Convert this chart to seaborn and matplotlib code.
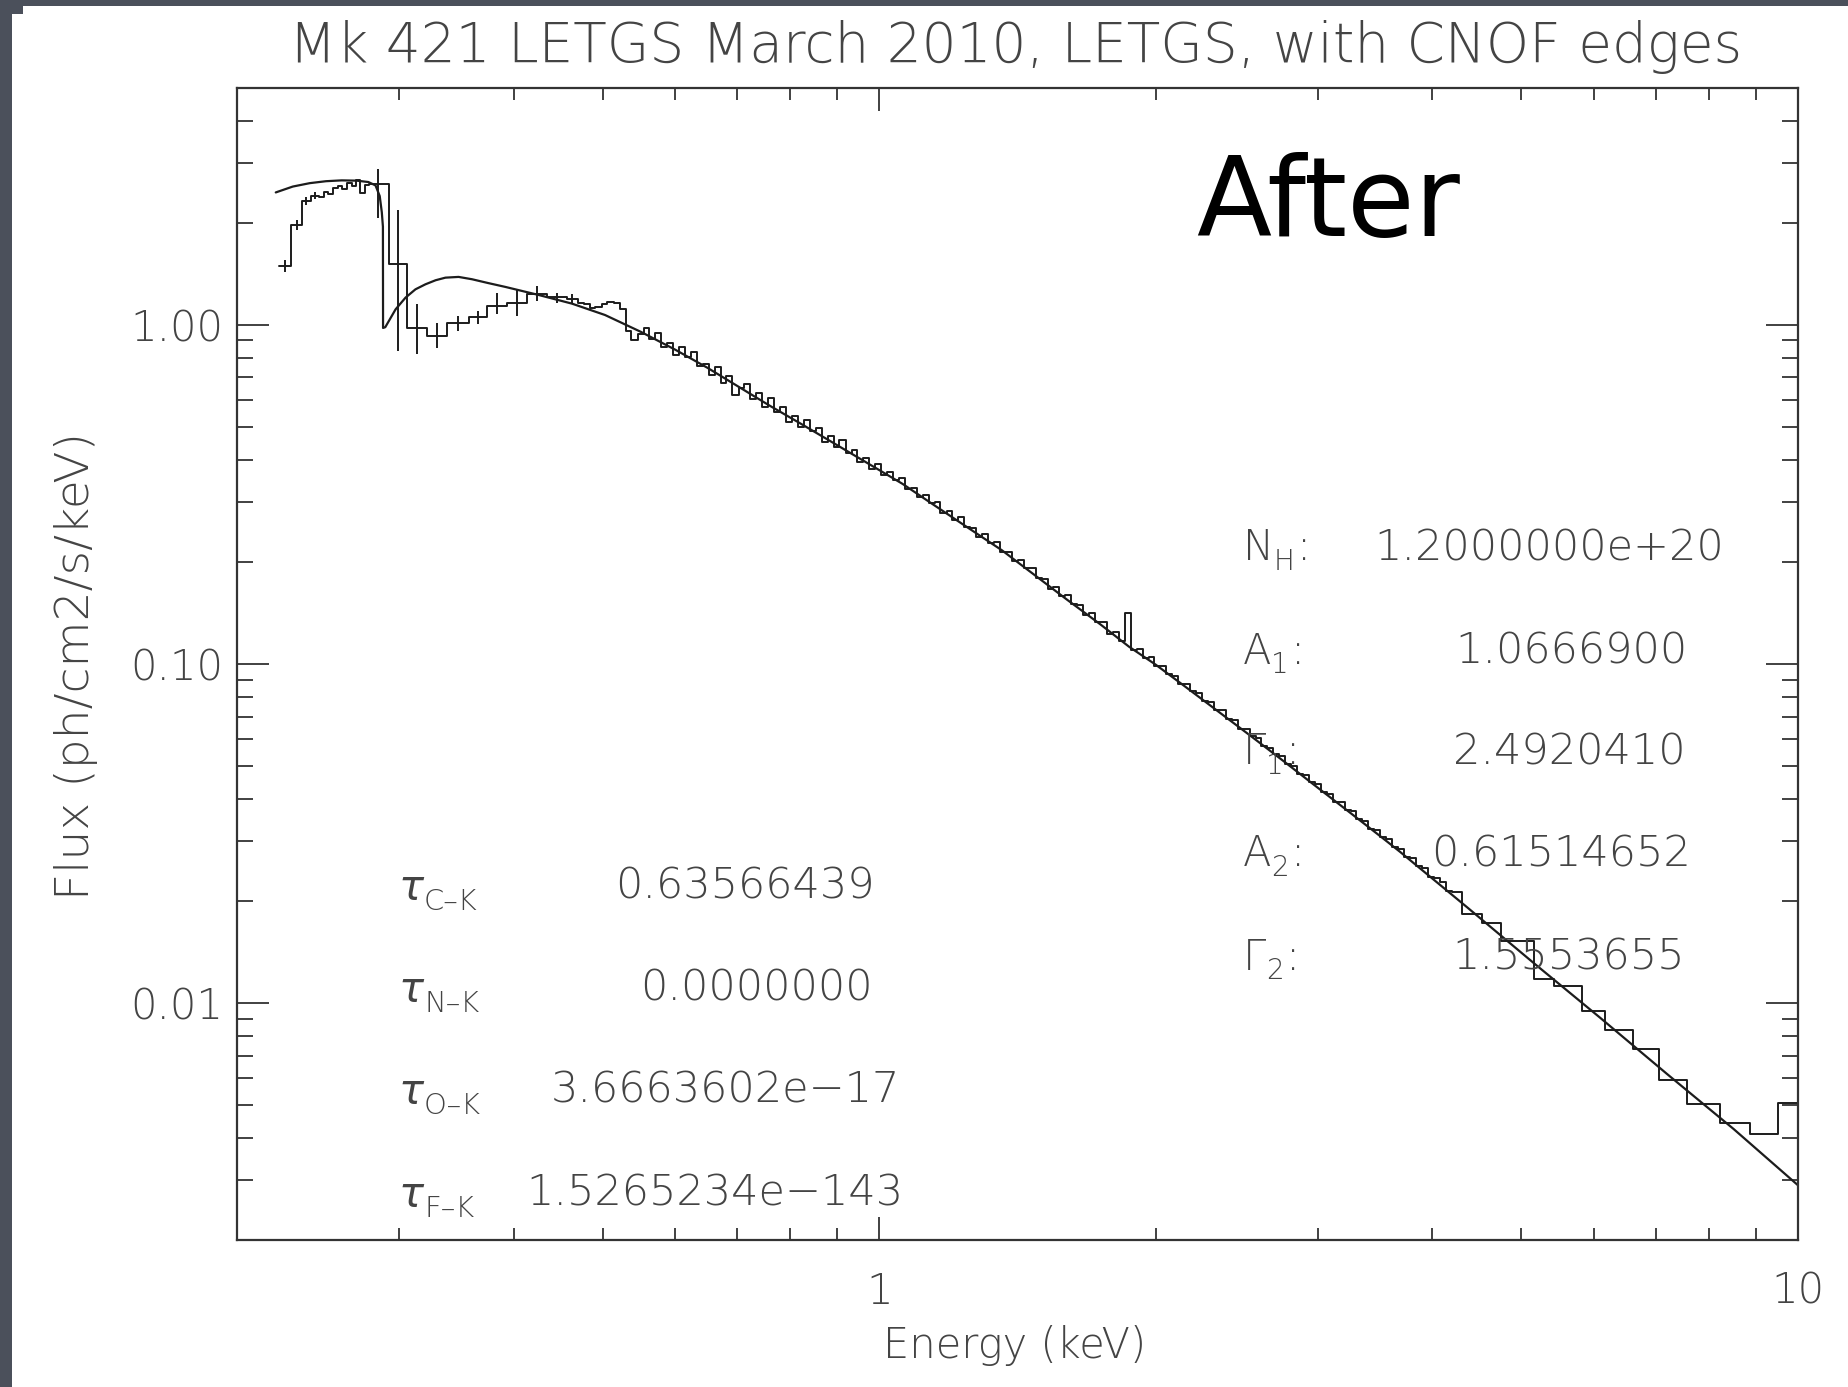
import numpy as np
import pandas as pd
import matplotlib
matplotlib.use("Agg")
import matplotlib.pyplot as plt
import seaborn as sns
from matplotlib.patches import Rectangle
from matplotlib.ticker import NullFormatter, LogLocator

# ---------------- data ----------------
# smooth model curve (energy keV, flux ph/cm2/s/keV)
model_E = [0.2204, 0.2300, 0.2400, 0.2500, 0.2600, 0.2700, 0.2780, 0.2830, 0.2860, 0.2875,
           0.2883, 0.2884, 0.2900, 0.2976, 0.3051, 0.3128, 0.3207, 0.3290, 0.3372, 0.3485,
           0.3605, 0.3750, 0.3918, 0.4259, 0.4630, 0.5030, 0.5500, 0.6000, 0.6500, 0.7000,
           0.7600, 0.8200, 0.8900, 0.9700, 1.0600, 1.1500, 1.2500, 1.3600, 1.4800, 1.6000,
           1.7400, 1.8700, 2.0000, 2.1500, 2.3300, 2.5400, 2.7600, 3.0000, 3.2600, 3.5400,
           3.6900, 4.3600, 5.1600, 6.0900, 7.2000, 8.5100, 10.000]
model_F = [2.46, 2.56, 2.62, 2.655, 2.67, 2.665, 2.64, 2.58, 2.40, 2.15,
           1.95, 0.98, 0.985, 1.112, 1.204, 1.274, 1.318, 1.355, 1.379, 1.386,
           1.364, 1.33, 1.295, 1.226, 1.156, 1.070, 0.955, 0.845, 0.748, 0.662,
           0.578, 0.513, 0.450, 0.392, 0.340, 0.293, 0.252, 0.2165, 0.182, 0.155,
           0.131, 0.1125, 0.0995, 0.0860, 0.0730, 0.0612, 0.0515, 0.0432, 0.0363, 0.0305,
           0.0279, 0.0192, 0.0131, 0.00905, 0.00618, 0.00425, 0.00290]

# binned data: left bin edges and fluxes (low-energy, wide bins)
low_edges = [0.2222, 0.2288, 0.2356, 0.2405, 0.2456, 0.2485, 0.2515, 0.2545, 0.2575, 0.2605,
             0.2635, 0.2665, 0.2695, 0.2725, 0.2755, 0.2785, 0.2926, 0.3063, 0.3221, 0.3386,
             0.3575, 0.3743, 0.3934, 0.4136, 0.4349, 0.4573]
low_flux = [1.49, 1.97, 2.32, 2.40, 2.38, 2.47, 2.44, 2.53, 2.57, 2.52,
            2.63, 2.57, 2.67, 2.45, 2.58, 2.61, 1.51, 0.982, 0.928, 1.016,
            1.058, 1.14, 1.16, 1.237, 1.212, 1.19]

# binned data: fine bins 0.47 - 4.3 keV
mid_edges = [0.470, 0.477, 0.484, 0.491, 0.499, 0.506, 0.514, 0.522, 0.530, 0.537,
             0.546, 0.554, 0.562, 0.570, 0.579, 0.588, 0.597, 0.605, 0.615, 0.624,
             0.633, 0.643, 0.652, 0.662, 0.672, 0.682, 0.692, 0.703, 0.713, 0.724,
             0.735, 0.746, 0.757, 0.768, 0.780, 0.792, 0.804, 0.816, 0.828, 0.840,
             0.853, 0.866, 0.879, 0.892, 0.905, 0.919, 0.933, 0.947, 0.961, 0.975,
             0.990, 1.005, 1.020, 1.035, 1.051, 1.066, 1.082, 1.099, 1.115, 1.132,
             1.149, 1.166, 1.184, 1.201, 1.219, 1.238, 1.256, 1.275, 1.294, 1.314,
             1.333, 1.353, 1.374, 1.394, 1.415, 1.436, 1.458, 1.480, 1.502, 1.525,
             1.547, 1.571, 1.594, 1.618, 1.642, 1.667, 1.692, 1.717, 1.743, 1.769,
             1.796, 1.823, 1.850, 1.878, 1.906, 1.935, 1.964, 1.993, 2.023, 2.054,
             2.084, 2.116, 2.147, 2.180, 2.212, 2.245, 2.279, 2.313, 2.348, 2.383,
             2.419, 2.455, 2.492, 2.530, 2.568, 2.606, 2.645, 2.685, 2.725, 2.766,
             2.808, 2.850, 2.893, 2.936, 2.980, 3.025, 3.070, 3.116, 3.163, 3.210,
             3.259, 3.307, 3.357, 3.407, 3.459, 3.510, 3.563, 3.617, 3.671, 3.726,
             3.782, 3.839, 3.896, 3.955, 4.014, 4.074, 4.135, 4.197]
mid_flux = [1.161, 1.156, 1.124, 1.129, 1.150, 1.170, 1.159, 1.116, 0.958, 0.900,
            0.940, 0.977, 0.910, 0.946, 0.860, 0.882, 0.814, 0.863, 0.804, 0.834,
            0.757, 0.768, 0.713, 0.753, 0.673, 0.707, 0.622, 0.650, 0.669, 0.605,
            0.628, 0.572, 0.609, 0.555, 0.573, 0.518, 0.539, 0.501, 0.526, 0.486,
            0.498, 0.451, 0.470, 0.436, 0.458, 0.420, 0.429, 0.393, 0.404, 0.376,
            0.390, 0.362, 0.369, 0.348, 0.354, 0.329, 0.331, 0.310, 0.316, 0.299,
            0.301, 0.279, 0.283, 0.266, 0.271, 0.253, 0.252, 0.237, 0.2416, 0.2278,
            0.2296, 0.2138, 0.2140, 0.2010, 0.2032, 0.1922, 0.1920, 0.1788, 0.1786, 0.1668,
            0.1687, 0.1587, 0.1597, 0.1501, 0.1491, 0.1394, 0.1411, 0.1329, 0.1331, 0.1230,
            0.1241, 0.1173, 0.1413, 0.1100, 0.1104, 0.1042, 0.1048, 0.0989, 0.0985, 0.0932,
            0.0923, 0.0873, 0.0873, 0.0830, 0.0824, 0.0776, 0.0770, 0.0732, 0.0731, 0.0690,
            0.0683, 0.0643, 0.0643, 0.0612, 0.0606, 0.0572, 0.0567, 0.0542, 0.0536, 0.0507,
            0.0501, 0.0475, 0.0472, 0.0449, 0.0444, 0.0419, 0.0414, 0.0393, 0.0391, 0.0371,
            0.0368, 0.0348, 0.0344, 0.0326, 0.0324, 0.0308, 0.0305, 0.0288, 0.0284, 0.0269,
            0.0267, 0.0253, 0.0250, 0.0236, 0.0233, 0.0227, 0.0214, 0.0212]

# binned data: wide bins at high energy
hi_edges = [4.31, 4.53, 4.75, 5.16, 5.42, 5.82, 6.17, 6.62, 7.05, 7.57, 8.23, 8.87, 9.52]
hi_flux = [0.0183, 0.0172, 0.0152, 0.0118, 0.0112, 0.00947, 0.00832, 0.00731, 0.00591,
           0.00502, 0.00442, 0.00411, 0.00506]
last_edge = 10.0

# error bars on the low-energy bins
err_E = [0.2255, 0.2322, 0.2380, 0.2430, 0.2848, 0.2994, 0.3141, 0.3303, 0.3479, 0.3658,
         0.3837, 0.4034, 0.4241, 0.4461, 0.4636]
err_lo = [1.43, 1.90, 2.26, 2.35, 2.07, 0.84, 0.82, 0.857, 0.96, 1.005,
          1.075, 1.063, 1.177, 1.164, 1.15]
err_hi = [1.55, 2.04, 2.38, 2.46, 2.88, 2.19, 1.15, 1.016, 1.063, 1.10,
          1.246, 1.274, 1.303, 1.246, 1.23]

# tick labels
x_ticks = [1, 10]
x_ticklabels = ["1", "10"]
y_ticks = [0.01, 0.1, 1.0]
y_ticklabels = ["0.01", "0.10", "1.00"]

title = "Mk 421 LETGS March 2010, LETGS, with CNOF edges"
xlabel = "Energy (keV)"
ylabel = "Flux (ph/cm2/s/keV)"

tau_subs = ["C\u2013K", "N\u2013K", "O\u2013K", "F\u2013K"]
tau_values = ["0.63566439", "0.0000000", "3.6663602e\u221217", "1.5265234e\u2212143"]
par_names = ["N", "A", "\u0393", "A", "\u0393"]
par_subs = ["H", "1", "1", "2", "2"]
par_values = ["1.2000000e+20", "1.0666900", "2.4920410", "0.61514652", "1.5553655"]

# ---------------- plotting ----------------
sns.set_theme(style="white")
plt.rcParams["font.family"] = ["DejaVu Sans"]
plt.rcParams["font.weight"] = "light"

W, H = 1848, 1387
fig = plt.figure(figsize=(W / 100, H / 100), dpi=100)
fig.patch.set_facecolor("white")

L, R, T, B = 237, 1798, 88, 1240
ax = fig.add_axes([L / W, 1 - B / H, (R - L) / W, (B - T) / H])
ax.set_facecolor("white")

ink = "#1c1c1c"
txt = "#444444"

data_x = low_edges + mid_edges + hi_edges + [last_edge]
data_y = low_flux + mid_flux + hi_flux + [hi_flux[-1]]
df_data = pd.DataFrame({"E": data_x, "F": data_y})
df_model = pd.DataFrame({"E": model_E, "F": model_F})

sns.lineplot(data=df_data, x="E", y="F", ax=ax, color=ink, linewidth=1.4,
             drawstyle="steps-post", estimator=None, sort=False)
sns.lineplot(data=df_model, x="E", y="F", ax=ax, color=ink, linewidth=1.6,
             estimator=None, sort=False)
ax.vlines(err_E, err_lo, err_hi, color=ink, linewidth=1.4)

ax.set_xscale("log")
ax.set_yscale("log")
ax.set_xlim(0.2, 10.0)
ax.set_ylim(0.002, 5.0)

ax.set_xticks(x_ticks)
ax.set_xticklabels(x_ticklabels)
ax.set_yticks(y_ticks)
ax.set_yticklabels(y_ticklabels)
ax.xaxis.set_minor_locator(LogLocator(base=10, subs=np.arange(2, 10)))
ax.yaxis.set_minor_locator(LogLocator(base=10, subs=np.arange(2, 10)))
ax.xaxis.set_minor_formatter(NullFormatter())
ax.yaxis.set_minor_formatter(NullFormatter())
ax.set_xlabel("")
ax.set_ylabel("")

ax.tick_params(which="both", direction="in", top=True, right=True, bottom=True, left=True,
               color="#333333", width=1.3, labelcolor=txt, labelsize=30)
ax.tick_params(axis="x", which="major", length=16.5, pad=22)
ax.tick_params(axis="x", which="minor", length=8.6)
ax.tick_params(axis="y", which="major", length=23, pad=10)
ax.tick_params(axis="y", which="minor", length=11.5)
for s in ax.spines.values():
    s.set_color("#333333")
    s.set_linewidth(1.6)


def ftext(x, y, s, **kw):
    fig.text(x / W, 1 - y / H, s, **kw)


ftext(1016, 47, title, ha="center", va="center", fontsize=39.5, color=txt)
ftext(1015, 1346, xlabel, ha="center", va="center", fontsize=30, color=txt)
ftext(76, 666, ylabel, ha="center", va="center", fontsize=34, color=txt, rotation=90)
ftext(1196, 236, "After", ha="left", va="baseline", fontsize=79, color="black",
      fontweight="normal")

tau_rows = [886, 988, 1090, 1193]
tau_centers = [745, 756, 725, 715]
for sub, val, yy, xc in zip(tau_subs, tau_values, tau_rows, tau_centers):
    ftext(398, yy + 2, "\u03c4", ha="left", va="center", fontsize=30, color=txt,
          fontstyle="italic")
    ftext(424, yy + 16, sub, ha="left", va="center", fontsize=21, color=txt)
    ftext(xc, yy, val, ha="center", va="center", fontsize=31, color=txt)

par_rows = [548, 651, 752, 854, 957]
par_centers = [1549, 1571, 1569, 1561, 1569]
name_w = [31, 28, 23, 28, 23]
sub_w = [21, 18, 18, 18, 18]
for name, sub, val, yy, xc, nw, sw in zip(par_names, par_subs, par_values, par_rows,
                                          par_centers, name_w, sub_w):
    ftext(1243, yy, name, ha="left", va="center", fontsize=30, color=txt)
    ftext(1243 + nw, yy + 14, sub, ha="left", va="center", fontsize=20, color=txt)
    ftext(1243 + nw + sw + 2, yy, ":", ha="left", va="center", fontsize=30, color=txt)
    ftext(xc, yy, val, ha="center", va="center", fontsize=31, color=txt)

# dark slide frame at top and left edges
dark = "#4b505b"
fig.patches.append(Rectangle((0, 1 - 6 / H), 1, 6 / H, transform=fig.transFigure,
                             facecolor=dark, edgecolor="none", zorder=10))
fig.patches.append(Rectangle((0, 1 - 14 / H), 23 / W, 14 / H, transform=fig.transFigure,
                             facecolor=dark, edgecolor="none", zorder=10))
fig.patches.append(Rectangle((0, 0), 12 / W, 1, transform=fig.transFigure,
                             facecolor=dark, edgecolor="none", zorder=10))

fig.savefig("out.png", dpi=100)
